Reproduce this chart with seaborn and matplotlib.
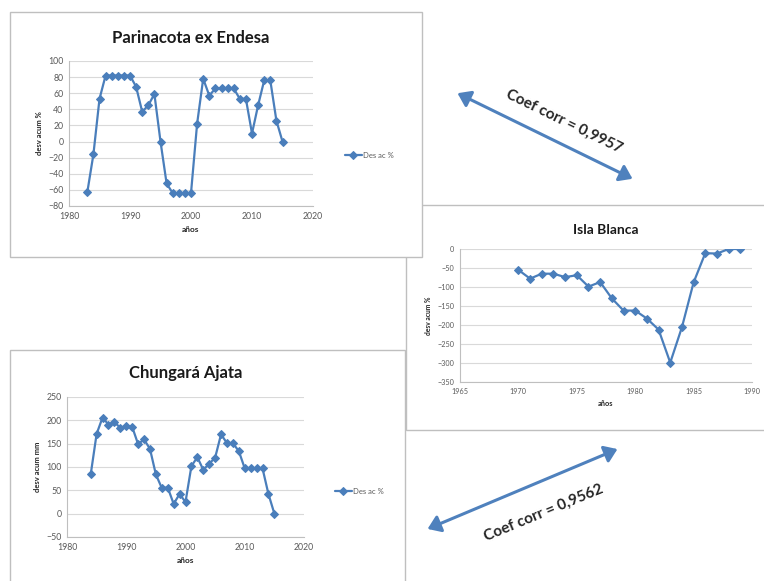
import matplotlib
matplotlib.use("Agg")
import matplotlib.pyplot as plt
import seaborn as sns
import pandas as pd
from matplotlib.patches import Rectangle, FancyArrowPatch

# Cumulative deviation series for each station
parinacota_years = list(range(1983, 2016))
parinacota_values = [-63, -16, 53, 82, 82, 82, 82, 82, 68, 37, 45, 59, 0, -52,
                     -64, -64, -64, -64, 22, 78, 57, 66, 66, 66, 66, 53, 53, 10,
                     45, 76, 76, 26, 0]

isla_years = list(range(1970, 1990))
isla_values = [-55, -78, -65, -65, -74, -69, -99, -87, -130, -162, -162, -183,
               -212, -299, -206, -88, -11, -12, 0, 0]

chungara_years = list(range(1984, 2016))
chungara_values = [84, 171, 206, 191, 196, 184, 188, 186, 149, 159, 139, 84, 55,
                   56, 21, 42, 25, 102, 121, 94, 107, 120, 170, 151, 151, 134,
                   97, 97, 97, 97, 42, 0]

titles = ["Parinacota ex Endesa", "Isla Blanca", "Chungará Ajata"]
ylabels = ["desv acum %", "desv acum %", "desv acum mm"]
xlabel = "años"
series_name = "Des ac %"
corr_labels = ["Coef corr = 0,9957", "Coef corr = 0,9562"]

sns.set_theme(style="white")
plt.rcParams["font.family"] = ["Lato", "DejaVu Sans"]

W, H = 764, 581
fig = plt.figure(figsize=(W / 100, H / 100), dpi=100)
fig.patch.set_facecolor("white")

LINE = "#4a7ebb"
GRID = "#d9d9d9"
TICK = "#595959"
FRAME = "#bfbfbf"


def fx(x):
    return x / W


def fy(y):
    return 1 - y / H


def rect_px(x0, y0, x1, y1):
    return [fx(x0), fy(y1), fx(x1) - fx(x0), fy(y0) - fy(y1)]


def panel(x0, y0, x1, y1, z):
    fig.add_artist(Rectangle((fx(x0), fy(y1)), fx(x1) - fx(x0), fy(y0) - fy(y1),
                             transform=fig.transFigure, facecolor="white",
                             edgecolor=FRAME, linewidth=1.0, zorder=z))


# chart frames (the first chart sits on top of the second)
panel(406, 205, 775, 430, -3)
panel(10, 350, 405, 590, -2)
panel(10, 12, 422, 257, -1)


def draw(ax, years, values, xlim, xstep, ylim, ystep, title, ylabel,
         tsize, lsize, fsize, tpad):
    df = pd.DataFrame({"año": years, "valor": values, "serie": series_name})
    sns.lineplot(data=df, x="año", y="valor", hue="serie", palette=[LINE],
                 marker="D", markersize=4.5, markeredgecolor=LINE,
                 linewidth=1.6, ax=ax)
    ax.set_xlim(*xlim)
    ax.set_ylim(*ylim)
    ax.set_xticks(range(xlim[0], xlim[1] + 1, xstep))
    ax.set_yticks(range(ylim[0], ylim[1] + 1, ystep))
    ax.grid(axis="y", color=GRID, linewidth=0.8)
    ax.set_axisbelow(True)
    for s in ["top", "right"]:
        ax.spines[s].set_visible(False)
    for s in ["left", "bottom"]:
        ax.spines[s].set_color(FRAME)
        ax.spines[s].set_linewidth(0.8)
    ax.tick_params(axis="both", labelsize=tsize, colors=TICK, length=2,
                   width=0.6, pad=2)
    ax.set_title(title, fontsize=fsize, fontweight="bold", color="#1a1a1a",
                 pad=tpad)
    ax.set_ylabel(ylabel, fontsize=lsize, fontweight="bold", color="#262626",
                  labelpad=4)
    ax.set_xlabel(xlabel, fontsize=lsize + 0.5, fontweight="bold",
                  color="#262626", labelpad=4)
    ax.set_facecolor("white")


ax1 = fig.add_axes(rect_px(69, 61, 313, 206))
draw(ax1, parinacota_years, parinacota_values, (1980, 2020), 10, (-80, 100), 20,
     titles[0], ylabels[0], 6.3, 5.5, 12, 13)
ax1.legend(loc="center left", bbox_to_anchor=(fx(338), fy(155)),
           bbox_transform=fig.transFigure, frameon=False, fontsize=5.5,
           handlelength=2.2, handletextpad=0.2, labelcolor=TICK)

ax2 = fig.add_axes(rect_px(460, 249, 752, 382))
draw(ax2, isla_years, isla_values, (1965, 1990), 5, (-350, 0), 50,
     titles[1], ylabels[1], 5.2, 4.8, 10, 11)
ax2.get_legend().remove()

ax3 = fig.add_axes(rect_px(67, 397, 304, 537))
draw(ax3, chungara_years, chungara_values, (1980, 2020), 10, (-50, 250), 50,
     titles[2], ylabels[2], 6.3, 5.5, 12, 14)
ax3.legend(loc="center left", bbox_to_anchor=(fx(328), fy(491)),
           bbox_transform=fig.transFigure, frameon=False, fontsize=5.5,
           handlelength=2.2, handletextpad=0.2, labelcolor=TICK)

# correlation arrows between stations
ARROW = "#4f81bd"
for (p0, p1), label, (tx, ty), rot in [
        (((455, 92), (635, 180)), corr_labels[0], (564, 121), -26),
        (((425, 530), (620, 448)), corr_labels[1], (544, 513), 22.5)]:
    fig.add_artist(FancyArrowPatch(
        (fx(p0[0]), fy(p0[1])), (fx(p1[0]), fy(p1[1])),
        transform=fig.transFigure, arrowstyle="<|-|>,head_length=0.5,head_width=0.35",
        mutation_scale=15, color=ARROW, linewidth=2.2, zorder=2))
    fig.text(fx(tx), fy(ty), label, rotation=rot, rotation_mode="anchor",
             ha="center", va="center", fontsize=11, fontweight="bold",
             color="#262626")

fig.savefig("out.png", dpi=100, facecolor="white")
